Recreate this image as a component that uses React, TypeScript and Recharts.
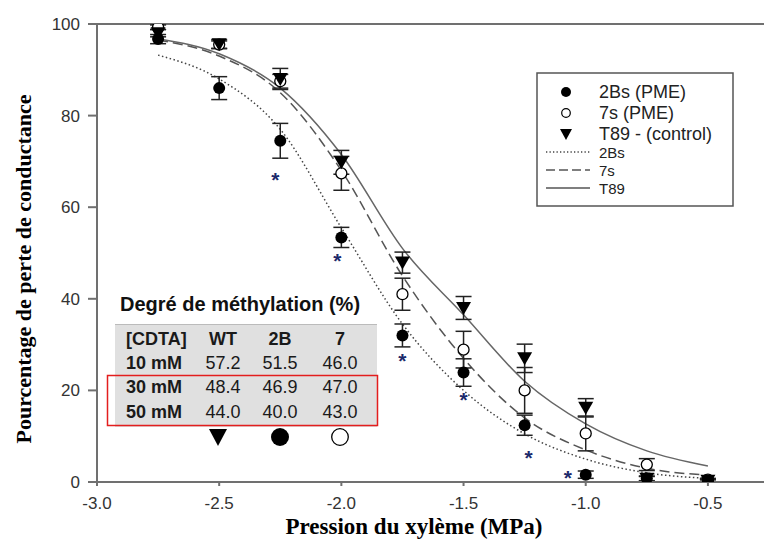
import { ComposedChart, Line, Scatter, XAxis, YAxis, ErrorBar, ReferenceLine, Legend, Label } from 'recharts';

// pressure levels (MPa)
const pressure = [-2.75, -2.5, -2.25, -2.0, -1.75, -1.5, -1.25, -1.0, -0.75, -0.5];

// measured loss of conductance (%), with error bars
const pme2Bs = [96.7, 86, 74.5, 53.4, 32, 23.9, 12.4, 1.6, 0.8, 0.3];
const pme2BsErr = [1, 2.5, 3.8, 2.2, 2.5, 3, 2.2, 0.8, 0.5, 0.3];
const pme7s = [99.3, 95.5, 87.5, 67.4, 41, 28.9, 20, 10.6, 3.8, 0.5];
const pme7sErr = [0.5, 0.8, 1.5, 3.7, 3.5, 4, 5, 3.8, 1.3, 0.3];
const t89 = [98, 95.6, 88, 69.8, 47.9, 38, 27, 16.2, 0.7, 0.3];
const t89Err = [0.8, 1, 2.3, 2.6, 2.3, 2.5, 3.1, 2, 0.5, 0.3];

// fitted curves
const fit2Bs = [93.2, 88, 77, 55.5, 34.5, 20, 10.5, 5, 2, 0.8];
const fit7s = [96.5, 93, 85, 68, 45, 27, 14, 7, 3, 1.5];
const fitT89 = [96.8, 93.5, 86, 71.5, 51, 36.5, 22, 12.7, 6.8, 3.5];

// significance marks
const starX = [-2.27, -2.016, -1.75, -1.5, -1.234, -1.073];
const starY = [66.5, 49, 27.1, 18.6, 5.9, 1.5];

const xTicks = [-3.0, -2.5, -2.0, -1.5, -1.0, -0.5];
const yTicks = [0, 20, 40, 60, 80, 100];

// inset table
const cdta = ['10 mM', '30 mM', '50 mM'];
const lineNames = ['WT', '2B', '7'];
const methylWT = [57.2, 48.4, 44.0];
const methyl2B = [51.5, 46.9, 40.0];
const methyl7 = [46.0, 47.0, 43.0];

const pts = (ys: number[], errs?: number[]) => pressure.map((x, i) => ({ x, y: ys[i], err: errs ? errs[i] : 0 }));
const stars = starX.map((x, i) => ({ x, y: starY[i] }));

const sans = '"Liberation Sans", Arial, sans-serif';
const serif = '"Liberation Serif", "Times New Roman", serif';
const axisColor = '#707070';

const FilledCircle = (p: any) => <circle cx={p.cx} cy={p.cy} r={6} fill="#000" />;
const OpenCircle = (p: any) => <circle cx={p.cx} cy={p.cy} r={5.5} fill="#fff" stroke="#000" strokeWidth={1.3} />;
const DownTriangle = (p: any) => (
  <path d={`M${p.cx - 7.5},${p.cy - 6} L${p.cx + 7.5},${p.cy - 6} L${p.cx},${p.cy + 7} Z`} fill="#000" />
);
const Star = (p: any) => (
  <text x={p.cx} y={p.cy + 10} textAnchor="middle" fontSize={21} fontWeight="bold" fill="#1c2a6b" fontFamily={sans}>*</text>
);

const legendRows = [
  { label: '2Bs (PME)', kind: 'filled', size: 18 },
  { label: '7s (PME)', kind: 'open', size: 18 },
  { label: 'T89 - (control)', kind: 'tri', size: 18 },
  { label: '2Bs', kind: 'dot', size: 15 },
  { label: '7s', kind: 'dash', size: 15 },
  { label: 'T89', kind: 'solid', size: 15 },
];

function LegendBox() {
  const rowY = [20, 41, 62, 80, 98, 116];
  return (
    <svg width={198} height={135} style={{ display: 'block' }}>
      <rect x={1} y={1} width={196} height={133} fill="#fff" stroke="#555" strokeWidth={1.5} />
      {legendRows.map((r, i) => {
        const y = rowY[i];
        let mark = null;
        if (r.kind === 'filled') mark = <circle cx={30} cy={y} r={5} fill="#000" />;
        if (r.kind === 'open') mark = <circle cx={30} cy={y} r={4.3} fill="#fff" stroke="#000" strokeWidth={1.2} />;
        if (r.kind === 'tri') mark = <path d={`M24,${y - 5} L36,${y - 5} L30,${y + 6} Z`} fill="#000" />;
        if (r.kind === 'dot') mark = <line x1={10} x2={54} y1={y} y2={y} stroke="#444" strokeWidth={1.3} strokeDasharray="1.3 2.2" />;
        if (r.kind === 'dash') mark = <line x1={10} x2={54} y1={y} y2={y} stroke="#555" strokeWidth={1.5} strokeDasharray="9 4" />;
        if (r.kind === 'solid') mark = <line x1={10} x2={54} y1={y} y2={y} stroke="#555" strokeWidth={1.5} />;
        return (
          <g key={r.label}>
            {mark}
            <text x={63} y={y} dominantBaseline="central" fontFamily={sans} fontSize={r.size} fill="#222">{r.label}</text>
          </g>
        );
      })}
    </svg>
  );
}

function MethylTable() {
  const cols = [223, 280, 340];
  const rows = [methylWT, methyl2B, methyl7];
  const rowY = [339, 363, 387, 412];
  const cell: React.CSSProperties = { position: 'absolute', fontFamily: sans, fontSize: 18, color: '#1a1a1a', lineHeight: '20px', transform: 'translate(-50%, -50%)', whiteSpace: 'nowrap' };
  return (
    <div style={{ position: 'absolute', left: 0, top: 0, width: 764, height: 542, pointerEvents: 'none' }}>
      <div style={{ position: 'absolute', left: 120, top: 293, fontFamily: sans, fontWeight: 'bold', fontSize: 20, color: '#111', whiteSpace: 'nowrap' }}>
        Degré de méthylation (%)
      </div>
      <div style={{ position: 'absolute', left: 115, top: 324, width: 262, height: 102, background: '#e0e0e0', borderTop: '1px solid #bbb' }} />
      <div style={{ ...cell, left: 126, top: rowY[0], transform: 'translateY(-50%)', fontWeight: 'bold' }}>[CDTA]</div>
      {lineNames.map((n, j) => (
        <div key={n} style={{ ...cell, left: cols[j], top: rowY[0], fontWeight: 'bold' }}>{n}</div>
      ))}
      {cdta.map((c, i) => (
        <div key={c}>
          <div style={{ ...cell, left: 126, top: rowY[i + 1], transform: 'translateY(-50%)', fontWeight: 'bold' }}>{c}</div>
          {rows.map((r, j) => (
            <div key={j} style={{ ...cell, left: cols[j], top: rowY[i + 1] }}>{r[i].toFixed(1)}</div>
          ))}
        </div>
      ))}
      <svg style={{ position: 'absolute', left: 0, top: 0 }} width={400} height={460}>
        <rect x={107.5} y={375.5} width={270} height={50} fill="none" stroke="#e31e1e" strokeWidth={1.5} />
        <path d="M209,429 L227,429 L218,446 Z" fill="#000" />
        <circle cx={280} cy={437} r={9} fill="#000" />
        <circle cx={340} cy={437} r={8.3} fill="#fff" stroke="#000" strokeWidth={1.3} />
      </svg>
    </div>
  );
}

export default function App() {
  return (
    <div style={{ position: 'absolute', left: 0, top: 0, width: 764, height: 542, overflow: 'hidden', background: '#fff' }}>
      <ComposedChart width={769} height={542} margin={{ top: 24, right: 0, left: 0, bottom: 0 }}>
        <XAxis
          type="number"
          dataKey="x"
          domain={[-3, -0.25]}
          ticks={xTicks}
          tickFormatter={(v: number) => v.toFixed(1)}
          allowDataOverflow
          height={60}
          stroke={axisColor}
          strokeWidth={2}
          tickSize={4}
          tickMargin={11}
          tick={{ fill: '#333', fontSize: 17, fontFamily: sans }}
        >
          <Label
            content={() => (
              <text x={414} y={534} textAnchor="middle" fontFamily={serif} fontWeight="bold" fontSize={23} fill="#000">
                Pression du xylème (MPa)
              </text>
            )}
          />
        </XAxis>
        <YAxis
          type="number"
          dataKey="y"
          domain={[0, 100]}
          ticks={yTicks}
          allowDataOverflow
          width={97}
          stroke={axisColor}
          strokeWidth={2}
          tickSize={9}
          tickMargin={8}
          tick={{ fill: '#333', fontSize: 17, fontFamily: sans }}
        >
          <Label
            content={() => (
              <text transform="translate(31,269) rotate(-90)" textAnchor="middle" fontFamily={serif} fontWeight="bold" fontSize={22} fill="#000">
                Pourcentage de perte de conductance
              </text>
            )}
          />
        </YAxis>
        <ReferenceLine y={100} stroke={axisColor} strokeWidth={2} />
        <Line data={pts(fit2Bs)} dataKey="y" type="monotone" stroke="#444" strokeWidth={1.5} strokeDasharray="1.5 2.5" dot={false} isAnimationActive={false} legendType="none" />
        <Line data={pts(fit7s)} dataKey="y" type="monotone" stroke="#555" strokeWidth={1.5} strokeDasharray="10 5" dot={false} isAnimationActive={false} legendType="none" />
        <Line data={pts(fitT89)} dataKey="y" type="monotone" stroke="#666" strokeWidth={1.5} dot={false} isAnimationActive={false} legendType="none" />
        <Scatter data={pts(pme7s, pme7sErr)} dataKey="y" shape={OpenCircle} isAnimationActive={false}>
          <ErrorBar dataKey="err" direction="y" width={8} stroke="#222" strokeWidth={1.5} />
        </Scatter>
        <Scatter data={pts(t89, t89Err)} dataKey="y" shape={DownTriangle} isAnimationActive={false}>
          <ErrorBar dataKey="err" direction="y" width={8} stroke="#222" strokeWidth={1.5} />
        </Scatter>
        <Scatter data={pts(pme2Bs, pme2BsErr)} dataKey="y" shape={FilledCircle} isAnimationActive={false}>
          <ErrorBar dataKey="err" direction="y" width={8} stroke="#222" strokeWidth={1.5} />
        </Scatter>
        <Scatter data={stars} dataKey="y" shape={Star} isAnimationActive={false} />
        <Legend layout="vertical" align="center" verticalAlign="middle" wrapperStyle={{ left: 536, top: 72, width: 198 }} content={() => <LegendBox />} />
      </ComposedChart>
      <MethylTable />
    </div>
  );
}
